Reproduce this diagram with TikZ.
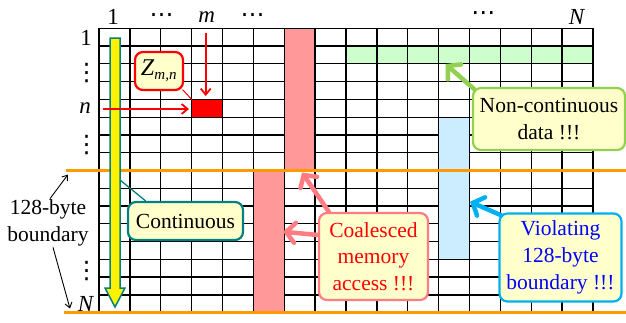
\documentclass[tikz,border=0pt]{standalone}
\usepackage{fontspec}
\setmainfont{Liberation Serif}
\newfontfamily\dotsfont{DejaVu Sans}
\usetikzlibrary{arrows.meta}
\definecolor{pinkfill}{HTML}{FF9999}
\definecolor{pinkline}{HTML}{FF7C80}
\definecolor{greenfill}{HTML}{CCFFCC}
\definecolor{greenline}{HTML}{92D050}
\definecolor{bluefill}{HTML}{CCECFF}
\definecolor{cyanline}{HTML}{00B0F0}
\definecolor{tealline}{HTML}{008080}
\definecolor{boxfill}{HTML}{FFFFCC}
\definecolor{orangeline}{HTML}{FF9900}
\definecolor{textblue}{HTML}{0000FF}
\begin{document}
\begin{tikzpicture}[x=1pt,y=-1pt,
  gridline/.style={line width=1.3pt,black},
  boundline/.style={line width=3.6pt,orangeline},
  hdr/.style={font=\fontsize{23}{26}\selectfont,inner sep=0pt},
  dotlabel/.style={font=\dotsfont\fontsize{24}{26}\selectfont,inner sep=0pt},
  callout/.style={draw,rounded corners=8pt,fill=boxfill,line width=2.2pt,align=center,
    font=\fontsize{21.5}{26.7}\selectfont,inner sep=2pt},
  thickarrow/.style={line width=4.5pt,line cap=round,-{Straight Barb[length=9pt,width=20pt,line cap=round]}},
  redarrow/.style={line width=1.8pt,red,-{Straight Barb[length=6pt,width=10pt]}},
  thinarrow/.style={line width=0.9pt,black,-{Straight Barb[length=5pt,width=7pt]}}]
\useasboundingbox (0,0) rectangle (626,322);
% fills under grid
\fill[greenfill] (347,46.4) rectangle (593,63.5);
\fill[red] (191.6,99.4) rectangle (222.5,117.15);
% grid
\foreach \i in {0,...,16} \draw[gridline] ({99+30.875*\i},28.3) -- ({99+30.875*\i},312.6);
\foreach \j in {0,...,16} \draw[gridline] (99,{28.3+17.77*\j}) -- (593,{28.3+17.77*\j});
% fills over grid
\fill[pinkfill] (285,29) rectangle (314.4,170.5);
\fill[pinkfill] (254.1,170.5) rectangle (283.6,312);
\fill[bluefill] (439.3,117.8) rectangle (468.8,258.8);
% boundary lines
\draw[boundline] (66,170.5) coordinate (b1l) -- (626,170.5) coordinate (b1r);
\draw[boundline] (64,312.6) coordinate (b2l) -- (626,312.6) coordinate (b2r);
% yellow arrow
\draw[fill=yellow,draw=tealline,line width=1.5pt,line join=miter]
  (110,38) -- (120,38) -- (120,288) -- (125,288) -- (115,307) -- (105,288) -- (110,288) -- cycle;
% headers
\node[hdr] (c1) at (113,17) {1};
\node[dotlabel] (c2) at (161.7,18) {⋯};
\node[hdr] (cm) at (206.7,17) {\textit{m}};
\node[dotlabel] (c3) at (252.7,18) {⋯};
\node[dotlabel] (c4) at (483.3,16) {⋯};
\node[hdr] (cN) at (577,17) {\textit{N}};
\node[hdr] (r1) at (86,38) {1};
\node[dotlabel] (r2) at (86.5,73) {⋮};
\node[hdr] (rn) at (85,108) {\textit{n}};
\node[dotlabel] (r3) at (86.5,145) {⋮};
\node[dotlabel] (r4) at (86.5,271) {⋮};
\node[hdr] (rN) at (86,304) {\textit{N}};
% red arrows to Z cell
\coordinate (mtop) at (205.7,33);
\coordinate (mbot) at (205.7,96);
\coordinate (nleft) at (103,109);
\coordinate (nright) at (189,109);
\draw[redarrow] (mtop) -- (mbot);
\draw[redarrow] (nleft) -- (nright);
% Z callout
\node[callout,draw=red,minimum width=48pt,minimum height=38pt,inner sep=1pt] (zbox) at (159,71)
  {\fontsize{24}{26}\selectfont\textit{Z}\textsubscript{\fontsize{15}{16}\selectfont\textit{m,n}}};
\coordinate (zcell) at (191.8,99.6);
\draw[red,line width=1pt] ([xshift=-1.5pt,yshift=1.5pt]zbox.south east) -- (zcell);
% continuous
\node[callout,draw=tealline,minimum width=115pt,minimum height=38pt] (cont) at (185.5,221) {Continuous};
\coordinate (yarr) at (120,180);
\draw[tealline,line width=1.3pt] ([xshift=18.7pt]cont.north west) -- (yarr);
% coalesced
\node[callout,draw=pinkline,text=red,minimum width=109pt,minimum height=87pt] (coal) at (373.5,256.5)
  {Coalesced\\memory\\access !!!};
\coordinate (pk1) at (302,172.5);
\coordinate (pk2) at (283,231.7);
\draw[thickarrow,pinkline] ([xshift=11pt]coal.north west) -- (pk1);
\draw[thickarrow,pinkline] ([yshift=21.5pt]coal.west) -- (pk2);
% violating
\node[callout,draw=cyanline,text=textblue,minimum width=122pt,minimum height=88pt] (viol) at (560.5,257.5)
  {Violating\\128-byte\\boundary !!!};
\coordinate (bl) at (470,201.7);
\draw[thickarrow,cyanline] ([xshift=3pt,yshift=-3pt]viol.north west) -- (bl);
% non-continuous
\node[callout,draw=greenline,minimum width=152pt,minimum height=62pt] (nonc) at (549,119)
  {Non-continuous\\data !!!};
\coordinate (gr) at (445.5,64);
\draw[thickarrow,greenline] ([xshift=2pt,yshift=-2pt]nonc.north west) -- (gr);
% 128-byte boundary label
\node[align=center,font=\fontsize{21.5}{26.7}\selectfont,inner sep=1pt] (lab) at (48,223) {128-byte\\boundary};
\draw[thinarrow] ([xshift=2pt]lab.north) -- ([xshift=2pt,yshift=-4pt]b1l);
\draw[thinarrow] ([xshift=5pt]lab.south) -- ([xshift=6pt,yshift=4pt]b2l);
\end{tikzpicture}
\end{document}
